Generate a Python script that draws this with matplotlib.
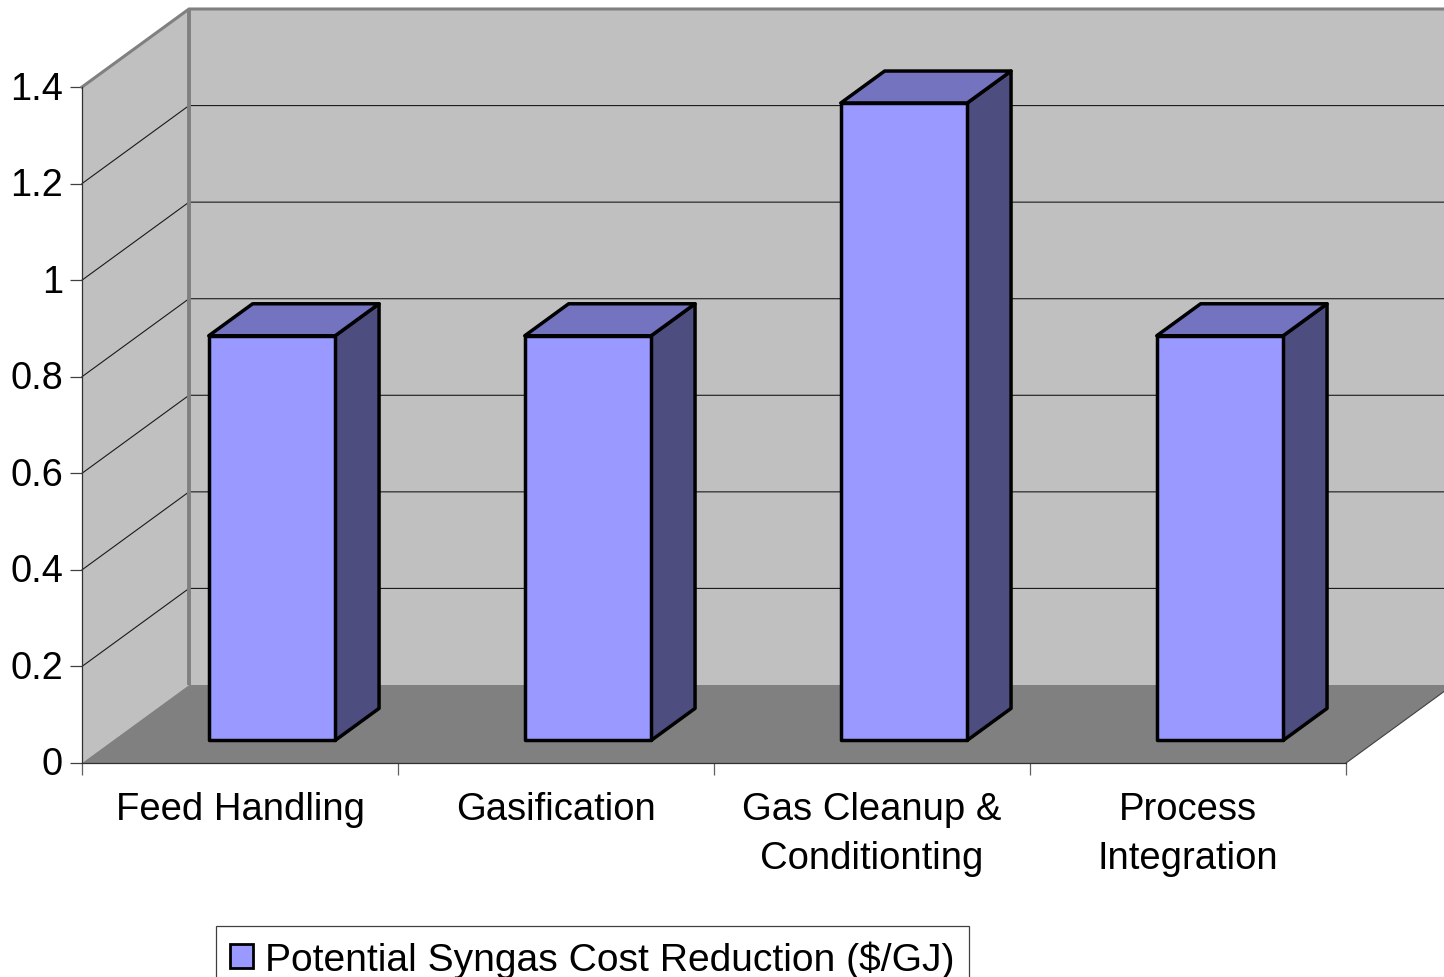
import matplotlib
matplotlib.use("Agg")
import matplotlib.pyplot as plt
from matplotlib.patches import Polygon, Patch
from matplotlib.transforms import ScaledTranslation

categories = ["Feed Handling", "Gasification", "Gas Cleanup &\nConditionting", "Process\nIntegration"]
values = [0.838, 0.838, 1.32, 0.838]
series_name = "Potential Syngas Cost Reduction ($/GJ)"
y_ticks = [0, 0.2, 0.4, 0.6, 0.8, 1.0, 1.2, 1.4]
y_labels = ["0", "0.2", "0.4", "0.6", "0.8", "1", "1.2", "1.4"]

W, H = 1444, 978
plt.rcParams["font.family"] = ["Liberation Sans", "DejaVu Sans"]

fig = plt.figure(figsize=(W / 100, H / 100), dpi=100)
ax = fig.add_axes([82 / W, 1 - 764 / H, (1346 - 82) / W, (764 - 88) / H])
ax.set_xlim(0, 4)
ax.set_ylim(0, 1.4)
ax.patch.set_visible(False)

# Oblique projection: full depth of the chart box in data units
DX = 107 / 316
DY = 78 / (676 / 1.4)


def project(x, y, d=0.0):
    return x + d * DX, y + d * DY


def face(points, **kw):
    ax.add_patch(Polygon([project(*p) for p in points], closed=True, clip_on=False, **kw))


WALL = "#c0c0c0"
FLOOR = "#808080"
EDGE = "#808080"

# Chart box: back wall, side wall and floor
face([(0, 0, 1), (4, 0, 1), (4, 1.4, 1), (0, 1.4, 1)], fc=WALL, ec="none", zorder=1)
face([(0, 0, 0), (0, 0, 1), (0, 1.4, 1), (0, 1.4, 0)], fc=WALL, ec="none", zorder=1)
face([(0, 0, 0), (4, 0, 0), (4, 0, 1), (0, 0, 1)], fc=FLOOR, ec="none", zorder=2)

# Gridlines run across the side wall and along the back wall
for v in y_ticks[1:-1]:
    xs, ys = zip(project(0, v, 0), project(0, v, 1), project(4, v, 1))
    ax.plot(xs, ys, color="#1a1a1a", lw=0.8, zorder=1.5, clip_on=False)

# Box outline
xs, ys = zip(project(0, 1.4, 0), project(0, 1.4, 1), project(4, 1.4, 1))
ax.plot(xs, ys, color=EDGE, lw=2.2, zorder=1.6, clip_on=False, solid_joinstyle="miter")
xs, ys = zip(project(0, 1.4, 1), project(0, 0, 1))
ax.plot(xs, ys, color=EDGE, lw=2.8, zorder=1.6, clip_on=False, solid_capstyle="butt")
xs, ys = zip(project(4, 0, 0), project(4, 0, 1))
ax.plot(xs, ys, color="#404040", lw=0.8, zorder=2.5, clip_on=False)

# Bars as three visible faces of a box
BAR_W = 0.4
BAR_SHIFT = 0.003
D0, D1 = 0.29, 0.70
for i, v in enumerate(values):
    x0 = i + 0.5 + BAR_SHIFT - BAR_W / 2
    x1 = i + 0.5 + BAR_SHIFT + BAR_W / 2
    style = dict(ec="black", lw=2.5, joinstyle="round", zorder=3)
    face([(x1, 0, D0), (x1, 0, D1), (x1, v, D1), (x1, v, D0)], fc="#4d4d80", **style)
    face([(x0, v, D0), (x1, v, D0), (x1, v, D1), (x0, v, D1)], fc="#7373bf", **style)
    face([(x0, 0, D0), (x1, 0, D0), (x1, v, D0), (x0, v, D0)], fc="#9999ff", **style)

# Axes, ticks and labels
for side in ("top", "right"):
    ax.spines[side].set_visible(False)
for side in ("left", "bottom"):
    ax.spines[side].set_color("#303030")
    ax.spines[side].set_linewidth(0.9)
    ax.spines[side].set_zorder(2.6)

ax.set_yticks(y_ticks, y_labels)
ax.set_xticks(range(5), [""] * 5)
ax.set_xticks([i + 0.5 for i in range(len(categories))], categories, minor=True)
ax.tick_params(axis="y", length=8.6, width=0.9, color="#404040", pad=5.0, labelsize=27.3)
ax.tick_params(axis="x", which="major", length=8.6, width=0.9, color="#606060")
ax.tick_params(axis="x", which="minor", length=0, pad=20.5, labelsize=27.5)
for label in ax.get_xticklabels(minor=True):
    label.set_linespacing(1.45)

# Raise the value labels slightly above their tick marks
lift = ScaledTranslation(0, 0.025, fig.dpi_scale_trans)
for label in ax.get_yticklabels():
    label.set_transform(label.get_transform() + lift)

leg = ax.legend(
    handles=[Patch(fc="#9999ff", ec="black", lw=2.0, label=series_name)],
    loc="upper left",
    bbox_to_anchor=(216 / W, 1 - 927 / H),
    bbox_transform=fig.transFigure,
    fontsize=28.1,
    frameon=True,
    fancybox=False,
    framealpha=1,
    edgecolor="#404040",
    borderpad=0.36,
    borderaxespad=0,
    handlelength=0.59,
    handleheight=0.58,
    handletextpad=0.31,
)
leg.get_frame().set_linewidth(0.9)

fig.savefig("out.png", dpi=100)
